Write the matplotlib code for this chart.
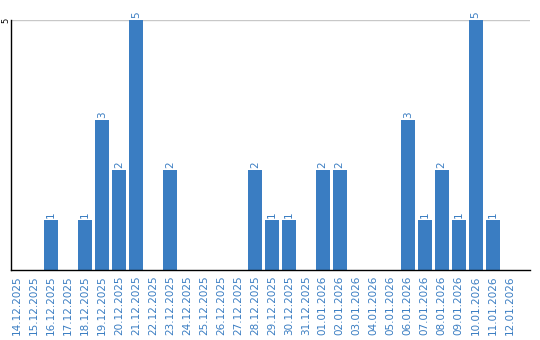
import matplotlib
matplotlib.use("Agg")
import matplotlib.pyplot as plt

# Daily counts
dates = ["14.12.2025", "15.12.2025", "16.12.2025", "17.12.2025", "18.12.2025",
         "19.12.2025", "20.12.2025", "21.12.2025", "22.12.2025", "23.12.2025",
         "24.12.2025", "25.12.2025", "26.12.2025", "27.12.2025", "28.12.2025",
         "29.12.2025", "30.12.2025", "31.12.2025", "01.01.2026", "02.01.2026",
         "03.01.2026", "04.01.2026", "05.01.2026", "06.01.2026", "07.01.2026",
         "08.01.2026", "09.01.2026", "10.01.2026", "11.01.2026", "12.01.2026"]
counts = [0, 0, 1, 0, 1, 3, 2, 5, 0, 2,
          0, 0, 0, 0, 2, 1, 1, 0, 2, 2,
          0, 0, 0, 3, 1, 2, 1, 5, 1, 0]

blue = "#3a7dc2"

fig = plt.figure(figsize=(5.4, 3.4), dpi=100)
ax = fig.add_axes([11 / 540, 70 / 340, 519 / 540, 250 / 340])

x = list(range(len(dates)))
ax.bar(x, counts, width=0.82, color=blue, zorder=2)

for xi, c in zip(x, counts):
    if c > 0:
        ax.text(xi, c + 0.04, str(c), rotation=90, ha="center", va="bottom",
                color=blue, fontsize=7.5)

ax.set_xlim(-0.35, 30.2)
ax.set_ylim(0, 5)
ax.set_yticks([5])
ax.set_yticklabels(["5"], rotation=90, va="center", fontsize=6)
ax.tick_params(axis="y", length=0, pad=0.5)
ax.axhline(5, color="#c8c8c8", lw=1, zorder=1)

ax.set_xticks(x)
ax.set_xticklabels(dates, rotation=90, color=blue, fontsize=7.5)
ax.tick_params(axis="x", length=0, pad=4)

for side in ["top", "right"]:
    ax.spines[side].set_visible(False)
ax.spines["left"].set_linewidth(1)
ax.spines["bottom"].set_linewidth(1)

fig.savefig("out.png", dpi=100)
